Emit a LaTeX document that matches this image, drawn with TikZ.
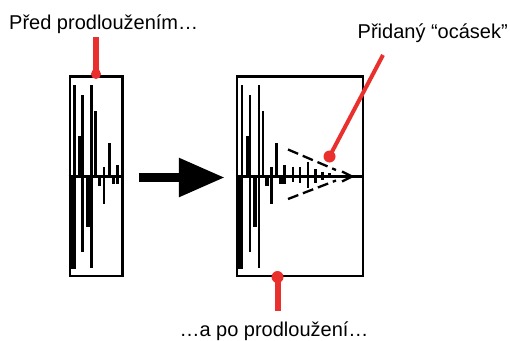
\documentclass[tikz,border=0pt]{standalone}
\usepackage{fontspec}
\setmainfont{Liberation Sans}
\usepackage{xcolor}
\usetikzlibrary{arrows.meta}

\definecolor{markred}{RGB}{233,48,44}

\begin{document}
\begin{tikzpicture}[x=1pt,y=-1pt,
  wavebox/.style={draw=black,line width=2.5pt,inner sep=0pt},
  bar/.style={line width=2.5pt},
  reddot/.style={circle,fill=markred,inner sep=0pt,minimum size=#1},
  redline/.style={markred,line width=#1},
  lbl/.style={inner sep=0pt,font=\fontsize{20}{23}\selectfont}]

\useasboundingbox (0,0) rectangle (510,340);

% Boxes
\node[wavebox,minimum width=52.5pt,minimum height=199.5pt] (before) at (96,176.25) {};
\node[wavebox,minimum width=126pt,minimum height=199.5pt] (after) at (300,176.25) {};

% Decay (same in both boxes)
\foreach \dx in {0,167.3}{
  \begin{scope}[xshift=\dx pt]
    \foreach \x/\t/\b in {74.5/85/269,82.7/95/252,91.5/85/268,95.7/111/177,
                          104/167/204,109.3/143/177,117.3/165/184}
      \draw[bar] (\x,\t) -- (\x,\b);
    \foreach \x/\t/\b in {71.3/177/269,80.3/136/177,87.8/177/227,
                          99.5/177/186,113.5/177/184}
      \draw[line width=3.8pt] (\x,\t) -- (\x,\b);
  \end{scope}
}

% Baselines
\draw[line width=2.5pt] (before.west |- 0,176.5) -- (before.east |- 0,176.5);
\draw[line width=2.5pt] (after.west |- 0,176.5) -- (after.east |- 0,176.5);

% Added tail
\foreach \x/\t/\b in {285/165/183,293/166.5/181.5,300/167/183,308/161.5/188,
                      315.5/169/183,322.5/171.5/180,329.5/173/178}
  \draw[bar] (\x,\t) -- (\x,\b);
\draw[line width=3.8pt] (277,176.5) -- (318,176.5);
\draw[line width=2.3pt] (342,171.5) -- (352,176.5) -- (342,181.5);
\draw[line width=2.3pt,dash pattern=on 11pt off 5pt] (288,149.5) -- (336,170);
\draw[line width=2.3pt,dash pattern=on 11pt off 5pt] (288,199) -- (336,180.5);

% Big arrow
\draw[line width=9pt,-{Triangle[length=46pt,width=37pt]}]
  ([xshift=15pt]before.east |- 0,177.5) -- ([xshift=-11pt]after.west |- 0,177.5);

% Red markers
\node[reddot=10pt] (dotBefore) at (96,74) {};
\coordinate (topBefore) at (96,37);
\draw[redline=6pt] (topBefore) -- (dotBefore.center);

\node[reddot=12pt] (dotAfter) at (277.5,277) {};
\coordinate (endAfter) at (277.5,311);
\draw[redline=6pt] (dotAfter.center) -- (endAfter);

\node[reddot=12pt] (dotTail) at (329.5,156.5) {};
\coordinate (endTail) at (383,55);
\draw[redline=4pt] (dotTail.center) -- (endTail);

% Labels
\node[lbl,anchor=base west] (lblBefore) at (9,29) {Před prodloužením…};
\node[lbl,anchor=base east] (lblTail) at (508,38.5) {Přidaný “ocásek”};
\node[lbl,anchor=base] (lblAfter) at (274,336.5) {…a po prodloužení…};

\end{tikzpicture}
\end{document}
